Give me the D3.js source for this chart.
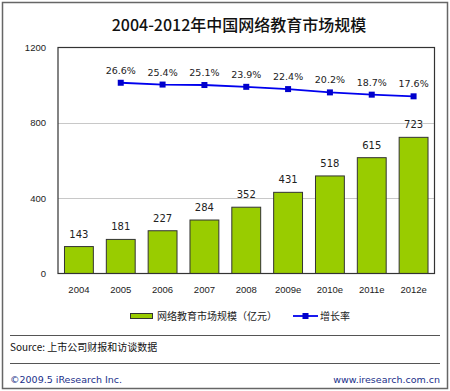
<!DOCTYPE html>
<html>
<head>
<meta charset="utf-8">
<script src="https://cdn.jsdelivr.net/npm/d3@7"></script>
<style>
  body { margin: 0; background: #fff; }
  svg { display: block; font-family: "DejaVu Sans", "Noto Sans CJK SC", sans-serif; }
</style>
</head>
<body>
<div id="chart"></div>
<script>
let years = ["2004", "2005", "2006", "2007", "2008", "2009e", "2010e", "2011e", "2012e"];
let marketSize = [143, 181, 227, 284, 352, 431, 518, 615, 723];
let growthYears = ["2005", "2006", "2007", "2008", "2009e", "2010e", "2011e", "2012e"];
let growthRate = [26.6, 25.4, 25.1, 23.9, 22.4, 20.2, 18.7, 17.6];
let yTicks = [0, 400, 800, 1200];

let width = 450,
    height = 391;

let cjk = "'Noto Sans CJK SC', sans-serif";

let svg = d3.select("#chart").append("svg")
    .attr("width", width)
    .attr("height", height);

// outer frame
svg.append("rect")
    .attr("x", 2.5).attr("y", 2.5)
    .attr("width", 445).attr("height", 386)
    .attr("fill", "#fff")
    .attr("stroke", "#666")
    .attr("stroke-width", 1.5);

svg.append("text")
    .attr("x", 239).attr("y", 31)
    .attr("text-anchor", "middle")
    .attr("font-family", cjk)
    .attr("font-size", 16)
    .attr("font-weight", 500)
    .attr("fill", "#111")
    .text("2004-2012年中国网络教育市场规模");

let plot = { left: 58, top: 47.5, right: 434.5, bottom: 273.5 };

let x = d3.scaleBand()
    .domain(years)
    .range([plot.left, plot.right])
    .paddingInner(0.31)
    .paddingOuter(0.155);

let y = d3.scaleLinear()
    .domain([0, 1200])
    .range([plot.bottom, plot.top]);

// hidden secondary axis for the growth rate
let y2 = d3.scaleLinear()
    .domain([-100, 50])
    .range([plot.bottom, plot.top]);

// grid lines
svg.append("g")
    .selectAll("line")
    .data(yTicks.filter(d => d > 0 && d < 1200))
    .enter().append("line")
    .attr("x1", plot.left).attr("x2", plot.right)
    .attr("y1", d => Math.round(y(d)) + 0.5)
    .attr("y2", d => Math.round(y(d)) + 0.5)
    .attr("stroke", "#c8c8c8");

// y axis labels
let yAxis = d3.axisLeft(y).tickValues(yTicks).tickFormat(d3.format("d")).tickSize(0).tickPadding(12);
svg.append("g")
    .attr("transform", "translate(" + plot.left + ",0)")
    .call(yAxis)
    .call(g => g.select(".domain").remove())
    .selectAll("text")
    .attr("font-size", 9.5)
    .attr("fill", "#222");

// bars
svg.append("g")
    .selectAll("rect")
    .data(marketSize)
    .enter().append("rect")
    .attr("x", (d, i) => x(years[i]))
    .attr("y", d => y(d))
    .attr("width", x.bandwidth())
    .attr("height", d => y(0) - y(d))
    .attr("fill", "#99cc00")
    .attr("stroke", "#333")
    .attr("stroke-width", 1);

svg.append("g")
    .selectAll("text")
    .data(marketSize)
    .enter().append("text")
    .attr("x", (d, i) => x(years[i]) + x.bandwidth() / 2)
    .attr("y", d => y(d) - 9)
    .attr("text-anchor", "middle")
    .attr("font-size", 10)
    .attr("fill", "#222")
    .text(d => d);

// plot frame
svg.append("rect")
    .attr("x", plot.left).attr("y", plot.top)
    .attr("width", plot.right - plot.left)
    .attr("height", plot.bottom - plot.top)
    .attr("fill", "none")
    .attr("stroke", "#333")
    .attr("stroke-width", 1.2);

// x axis labels
let xAxis = d3.axisBottom(x).tickSize(0).tickPadding(13);
svg.append("g")
    .attr("transform", "translate(0," + plot.bottom + ")")
    .call(xAxis)
    .call(g => g.select(".domain").remove())
    .selectAll("text")
    .attr("font-size", 9.5)
    .attr("fill", "#222");

// growth line
let line = d3.line()
    .x((d, i) => x(growthYears[i]) + x.bandwidth() / 2)
    .y(d => y2(d));

svg.append("path")
    .datum(growthRate)
    .attr("d", line)
    .attr("fill", "none")
    .attr("stroke", "#0000ee")
    .attr("stroke-width", 1.8);

svg.append("g")
    .selectAll("rect")
    .data(growthRate)
    .enter().append("rect")
    .attr("x", (d, i) => x(growthYears[i]) + x.bandwidth() / 2 - 3)
    .attr("y", d => y2(d) - 3)
    .attr("width", 6).attr("height", 6)
    .attr("fill", "#0000cc");

svg.append("g")
    .selectAll("text")
    .data(growthRate)
    .enter().append("text")
    .attr("x", (d, i) => x(growthYears[i]) + x.bandwidth() / 2)
    .attr("y", d => y2(d) - 9)
    .attr("text-anchor", "middle")
    .attr("font-size", 9.5)
    .attr("fill", "#222")
    .text(d => d.toFixed(1) + "%");

// legend
let legend = svg.append("g");
legend.append("rect")
    .attr("x", 130.5).attr("y", 313.5)
    .attr("width", 22).attr("height", 5)
    .attr("fill", "#99cc00")
    .attr("stroke", "#333");
legend.append("text")
    .attr("x", 157).attr("y", 320)
    .attr("font-family", cjk)
    .attr("font-size", 10)
    .attr("fill", "#222")
    .text("网络教育市场规模（亿元）");
legend.append("line")
    .attr("x1", 293).attr("x2", 318)
    .attr("y1", 316).attr("y2", 316)
    .attr("stroke", "#0000ee")
    .attr("stroke-width", 1.8);
legend.append("rect")
    .attr("x", 302.5).attr("y", 313)
    .attr("width", 6).attr("height", 6)
    .attr("fill", "#0000cc");
legend.append("text")
    .attr("x", 320).attr("y", 320)
    .attr("font-family", cjk)
    .attr("font-size", 10)
    .attr("fill", "#222")
    .text("增长率");

// footer
svg.append("line")
    .attr("x1", 10).attr("x2", 440)
    .attr("y1", 335.5).attr("y2", 335.5)
    .attr("stroke", "#555");
svg.append("text")
    .attr("x", 10).attr("y", 351)
    .attr("font-family", cjk)
    .attr("font-size", 10)
    .attr("fill", "#111")
    .text("Source: 上市公司财报和访谈数据");
svg.append("line")
    .attr("x1", 10).attr("x2", 440)
    .attr("y1", 363.5).attr("y2", 363.5)
    .attr("stroke", "#555");
svg.append("text")
    .attr("x", 10).attr("y", 383)
    .attr("font-size", 9.5)
    .attr("fill", "#1a2f8a")
    .text("©2009.5 iResearch Inc.");
svg.append("text")
    .attr("x", 440).attr("y", 383)
    .attr("text-anchor", "end")
    .attr("font-size", 9.5)
    .attr("fill", "#1a2f8a")
    .text("www.iresearch.com.cn");
</script>
</body>
</html>
